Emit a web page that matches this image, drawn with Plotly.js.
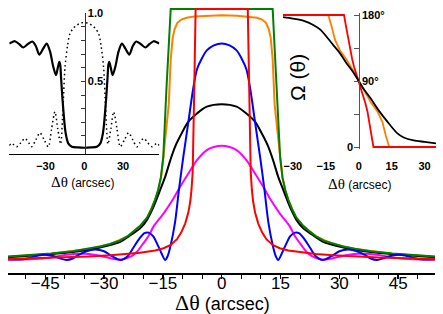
<!DOCTYPE html>
<html>
<head>
<meta charset="utf-8">
<script src="https://cdn.plot.ly/plotly-3.0.1.min.js"></script>
<style>html,body{margin:0;padding:0;background:#fff;}#chart{width:443px;height:314px;}</style>
</head>
<body>
<div id="chart"></div>
<script>
// ---------- main plot data (Δθ in arcsec, reflectivity) ----------
const greenX = [-54.5,-48,-43.5,-38,-34,-31,-28.5,-26,-24,-22.5,-20.8,-19,-18,-17,-16.2,-15.5,-14.9,-14.1,-13,13,14.1,14.9,15.5,16.2,17,18,19,20.8,22.5,24,26,28.5,31,34,38,43.5,48,54.5];
const greenY = [0.014,0.02,0.026,0.035,0.045,0.054,0.064,0.077,0.095,0.113,0.136,0.17,0.2,0.24,0.28,0.33,0.41,0.68,1.0,1.0,0.68,0.41,0.33,0.28,0.24,0.2,0.17,0.136,0.113,0.095,0.077,0.064,0.054,0.045,0.035,0.026,0.02,0.014];

const orangeX = [-54.5,-43.5,-34,-28.5,-24,-20.8,-19,-17,-16.2,-15.5,-14.9,-14.3,-13.5,-13.0,-12.5,-12,-11.3,-10.3,-9,-7,-4,0,4,7,9,10.3,11.3,12,12.5,13.0,13.5,14.3,14.9,15.5,16.2,17,19,20.8,24,28.5,34,43.5,54.5];
const orangeY = [0.013,0.025,0.044,0.063,0.094,0.135,0.168,0.238,0.278,0.328,0.405,0.5,0.62,0.8,0.885,0.92,0.945,0.958,0.965,0.97,0.973,0.975,0.973,0.97,0.965,0.958,0.945,0.92,0.885,0.8,0.62,0.5,0.405,0.328,0.278,0.238,0.168,0.135,0.094,0.063,0.044,0.025,0.013];

const blackX = [-54.5,-45,-38,-31,-26,-22.5,-20.8,-19.1,-17.4,-15.7,-14.4,-13.1,-11.9,-10.2,-8.5,-6.3,-3.8,0,3.8,6.3,8.5,10.2,11.9,13.1,14.4,15.7,17.4,19.1,20.8,22.5,26,31,38,45,54.5];
const blackY = [0.011,0.022,0.032,0.05,0.071,0.107,0.126,0.159,0.212,0.279,0.332,0.398,0.451,0.505,0.551,0.584,0.611,0.621,0.611,0.584,0.551,0.505,0.451,0.398,0.332,0.279,0.212,0.159,0.126,0.107,0.071,0.05,0.032,0.022,0.011];

const magentaX = [-54.5,-48,-44,-41,-38,-35,-32.5,-30,-27.5,-25.5,-23,-21.5,-20,-18.5,-17.4,-14.8,-12.3,-10.6,-8.5,-6.3,-3.8,-2,0,2,3.8,6.3,8.5,10.6,12.3,14.8,17.4,18.5,20,21.5,23,25.5,27.5,30,32.5,35,38,41,44,48,54.5];
const magentaY = [0.001,0.004,0.009,0.017,0.024,0.025,0.021,0.013,0.004,0.002,0.015,0.035,0.066,0.1,0.133,0.186,0.245,0.292,0.345,0.398,0.438,0.45,0.455,0.45,0.438,0.398,0.345,0.292,0.245,0.186,0.133,0.1,0.066,0.035,0.015,0.002,0.004,0.013,0.021,0.025,0.024,0.017,0.009,0.004,0.001];

const blueX = [-54.5,-51.5,-49.5,-47.5,-45.5,-43.5,-41.5,-39.6,-38,-36.5,-34.5,-32.3,-30,-28,-25.8,-24,-22.5,-21,-19.7,-18.7,-17.5,-16.5,-15.3,-14.4,-13.8,-13.1,-11.9,-10.9,-9.8,-8.5,-7.3,-6.3,-5,-3.8,-2,0,2,3.8,5,6.3,7.3,8.5,9.8,10.9,11.9,13.1,13.8,14.4,15.3,16.5,17.5,18.7,19.7,21,22.5,24,25.8,28,30,32.3,34.5,36.5,38,39.6,41.5,43.5,45.5,47.5,49.5,51.5,54.5];
const blueY = [0.003,0.002,0.006,0.015,0.021,0.018,0.008,0.0,0.006,0.02,0.035,0.042,0.035,0.015,0.0,0.015,0.05,0.085,0.107,0.109,0.095,0.066,0.025,0.0,0.015,0.053,0.15,0.28,0.41,0.55,0.68,0.76,0.805,0.835,0.855,0.863,0.855,0.835,0.805,0.76,0.68,0.55,0.41,0.28,0.15,0.053,0.015,0.0,0.025,0.066,0.095,0.109,0.107,0.085,0.05,0.015,0.0,0.015,0.035,0.042,0.035,0.02,0.006,0.0,0.008,0.018,0.021,0.015,0.006,0.002,0.003];

const redX = [-54.5,-47,-40,-34,-28.4,-24,-20.8,-17,-14.8,-13,-11.4,-10.3,-9.3,-8.5,-8.0,-7.7,-7.4,-7.0,-6.65,6.65,7.0,7.4,7.7,8.0,8.5,9.3,10.3,11.4,13,14.8,17,20.8,24,28.4,34,40,47,54.5];
const redY = [0.004,0.007,0.01,0.014,0.019,0.024,0.029,0.038,0.047,0.06,0.083,0.11,0.146,0.19,0.235,0.28,0.35,0.68,1.0,1.0,0.68,0.35,0.28,0.235,0.19,0.146,0.11,0.083,0.06,0.047,0.038,0.029,0.024,0.019,0.014,0.01,0.007,0.004];

const mainTickVals = [-45,-30,-15,0,15,30,45];
const mainMinorVals = [-50,-40,-35,-25,-20,-10,-5,5,10,20,25,35,40,50];

// ---------- left inset ----------
const solidX = [-58,-55.5,-53.6,-50.5,-47.2,-43.5,-40.2,-37.5,-34.8,-31.8,-29.1,-26.5,-24,-21.9,-20.5,-19.3,-18.6,-18,-17.1,-16.2,-15.3,-14.4,-12.4,-9.7,-5,0,5,9.7,12.4,14.4,15.3,16.2,17.1,18,18.6,19.3,20.5,21.9,24,26.5,29.1,31.8,34.8,37.5,40.2,43.5,47.2,50.5,53.6,55.5,58];
const solidY = [0.778,0.79,0.795,0.775,0.749,0.775,0.793,0.76,0.697,0.74,0.778,0.72,0.607,0.546,0.6,0.643,0.62,0.533,0.4,0.289,0.19,0.119,0.045,0.021,0.015,0.013,0.015,0.021,0.045,0.119,0.19,0.289,0.4,0.533,0.62,0.643,0.6,0.546,0.607,0.72,0.778,0.74,0.697,0.76,0.793,0.775,0.749,0.775,0.795,0.79,0.778];

const dotX = [-58,-56.1,-52.3,-49,-45.9,-43,-40.7,-37.5,-34.3,-31,-27.8,-25.3,-22.7,-20.5,-18.3,-16.5,-14.9,-13,-11.1,-8.5,-5.9,-3,0,3,5.9,8.5,11.1,13,14.9,16.5,18.3,20.5,22.7,25.3,27.8,31,34.3,37.5,40.7,43,45.9,49,52.3,56.1,58];
const dotY = [0.03,0.045,0.02,0.05,0.082,0.05,0.02,0.07,0.123,0.07,0.02,0.15,0.277,0.15,0.04,0.3,0.607,0.76,0.851,0.89,0.912,0.928,0.932,0.928,0.912,0.89,0.851,0.76,0.607,0.3,0.04,0.15,0.277,0.15,0.02,0.07,0.123,0.07,0.02,0.05,0.082,0.05,0.02,0.045,0.03];

const inset1XTicks = [-30,0,30];
const inset1YTicks = [0.1,0.2,0.3,0.4,0.5,0.6,0.7,0.8,0.9,1.0];
const inset1YLabels = ['','','','','0.5','','','','','1.0'];

// ---------- right inset: Ω(θ) in degrees ----------
const phRedX = [-34.5,-6.7,-6.0,-5.2,-4.0,-3.0,-2.2,-1.0,0,1.0,2.2,3.0,4.0,5.2,6.0,6.7,35.2];
const phRedY = [180,180,168,155,132,120,110,99,90,81,70,60,48,25,12,0,0];
const phOrangeX = [-34.5,-13.9,-12.3,-10.8,-8.6,-5.5,-2.5,0,2.5,5.5,8.6,10.8,12.3,13.9,35.2];
const phOrangeY = [180,180,164,146,132,119,104,90,76,61,48,34,16,0,0];
const phBlackX = [-34.5,-30,-25,-20.5,-17.5,-14,-11.6,-8.6,-5.5,-2.5,0,2.5,5.5,8.6,11.6,14,17.5,20.5,25,30,35.2];
const phBlackY = [177,175,172,166,160,148,139,128,114,102,90,78,66,52,40,31,19,13,9,7,5];
const inset2XTicks = [-30,-15,0,15,30];
const inset2YTicks = [0,45,90,135,180];
const inset2YLabels = ['','','90°','','180°'];

const W = 443, H = 314;
const px = v => v / W;          // pixel -> paper x
const py = v => (H - v) / H;    // pixel -> paper y

function line(x, y, color, width, shape, xa, ya, dash) {
  return {x: x, y: y, type: 'scatter', mode: 'lines', xaxis: xa, yaxis: ya,
          line: {color: color, width: width, shape: shape || 'linear', smoothing: 0.8, dash: dash || 'solid'},
          hoverinfo: 'skip'};
}

const data = [
  line(orangeX, orangeY, '#FF8000', 2, 'linear', 'x', 'y'),
  line(blackX, blackY, '#000000', 2, 'spline', 'x', 'y'),
  line(greenX, greenY, '#008000', 2, 'linear', 'x', 'y'),
  line(magentaX, magentaY, '#FF00FF', 2, 'spline', 'x', 'y'),
  line(blueX, blueY, '#0000FF', 2, 'spline', 'x', 'y'),
  line(redX, redY, '#FF0000', 2, 'linear', 'x', 'y'),
  line(dotX, dotY, '#000000', 1.5, 'spline', 'x2', 'y2', '1.5px,3px'),
  line(solidX, solidY, '#000000', 2.2, 'spline', 'x2', 'y2'),
  line(phOrangeX, phOrangeY, '#FF8000', 1.8, 'linear', 'x3', 'y3'),
  line(phRedX, phRedY, '#FF0000', 1.8, 'linear', 'x3', 'y3'),
  line(phBlackX, phBlackY, '#000000', 1.8, 'spline', 'x3', 'y3')
];

const boldSmall = {family: 'Liberation Sans, Arial, sans-serif', size: 11, weight: 'bold', color: '#000'};

const layout = {
  width: W, height: H,
  margin: {l: 0, r: 0, t: 0, b: 0},
  paper_bgcolor: '#fff', plot_bgcolor: 'rgba(0,0,0,0)',
  showlegend: false,
  font: {family: 'Liberation Sans, Arial, sans-serif', color: '#000'},
  xaxis: {
    domain: [px(8), px(435)], range: [-54.5, 54.4], anchor: 'y',
    showline: true, linecolor: '#000', linewidth: 1.5,
    ticks: 'outside', ticklen: 4, tickwidth: 1.5, tickcolor: '#000',
    tickmode: 'array', tickvals: mainTickVals, tickfont: {size: 17}, ticklabelstandoff: -10,
    minor: {tickmode: 'array', tickvals: mainMinorVals, ticks: 'outside', ticklen: 4, tickwidth: 1, tickcolor: '#000', showgrid: false},
    showgrid: false, zeroline: false, fixedrange: true
  },
  yaxis: {domain: [py(273), py(5)], range: [-0.0518, 1.016], anchor: 'x', visible: false, fixedrange: true},
  xaxis2: {
    domain: [px(9.3), px(159.3)], range: [-58, 58], anchor: 'y2',
    showline: true, linecolor: '#000', linewidth: 1,
    ticks: '', tickmode: 'array', tickvals: inset1XTicks, tickfont: boldSmall, ticklabelstandoff: 2,
    showgrid: false, zeroline: false, fixedrange: true
  },
  yaxis2: {
    domain: [py(154), py(13.3)], range: [-0.033, 1.0], anchor: 'free', position: px(84.6), side: 'right',
    showline: true, linecolor: '#333', linewidth: 1,
    ticks: 'inside', ticklen: 4, tickcolor: '#333',
    tickmode: 'array', tickvals: inset1YTicks, ticktext: inset1YLabels, tickfont: boldSmall,
    showgrid: false, zeroline: false, fixedrange: true
  },
  xaxis3: {
    domain: [px(283), px(436)], range: [-34.5, 35.2], anchor: 'y3',
    showline: false, ticks: '', tickmode: 'array', tickvals: inset2XTicks, tickfont: boldSmall, ticklabelstandoff: 9,
    showgrid: false, zeroline: false, fixedrange: true
  },
  yaxis3: {
    domain: [py(149.2), py(12.8)], range: [-3, 183], anchor: 'free', position: px(358.8), side: 'right',
    showline: true, linecolor: '#555', linewidth: 1,
    ticks: 'inside', ticklen: 5, tickcolor: '#555',
    tickmode: 'array', tickvals: inset2YTicks, ticktext: inset2YLabels, tickfont: boldSmall,
    showgrid: false, zeroline: false, fixedrange: true
  },
  annotations: [
    {text: '<span style="font-family:Liberation Serif;font-size:22px">Δθ</span> (arcsec)', xref: 'paper', yref: 'paper',
     x: px(222), y: py(302.5), xanchor: 'center', yanchor: 'middle', showarrow: false, font: {size: 18}},
    {text: '<span style="font-family:Liberation Serif;font-size:15px">Δθ</span> (arcsec)', xref: 'paper', yref: 'paper',
     x: px(83), y: py(182), xanchor: 'center', yanchor: 'middle', showarrow: false, font: {size: 12}},
    {text: '<span style="font-family:Liberation Serif;font-size:15px">Δθ</span> (arcsec)', xref: 'paper', yref: 'paper',
     x: px(360), y: py(184), xanchor: 'center', yanchor: 'middle', showarrow: false, font: {size: 12}},
    {text: 'Ω (θ)', xref: 'paper', yref: 'paper', x: px(298), y: py(78), xanchor: 'center', yanchor: 'middle',
     textangle: -90, showarrow: false, font: {size: 21}},
    {text: '0', xref: 'x3', yref: 'y3', x: -4, y: 0, xanchor: 'center', yanchor: 'middle', showarrow: false, font: boldSmall}
  ]
};

Plotly.newPlot('chart', data, layout, {displayModeBar: false, staticPlot: true});
</script>
</body>
</html>
